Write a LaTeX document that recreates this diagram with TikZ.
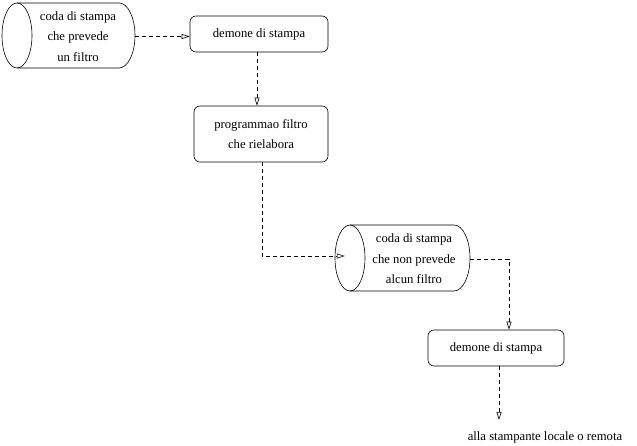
\documentclass[tikz,border=0pt]{standalone}
\usepackage{fontspec}
\setmainfont{Liberation Serif}
\usetikzlibrary{arrows.meta}
\begin{document}
\begin{tikzpicture}[x=1pt,y=-1pt,
  every node/.style={font=\fontsize{12.7}{20.5}\selectfont, inner sep=0pt, align=center},
  box/.style={draw, rounded corners=6pt, line width=0.6pt},
  conn/.style={draw, line width=0.6pt, dash pattern=on 4pt off 3pt, -{Triangle[open,length=8pt,width=5pt]}},
  cyl/.style={line width=0.6pt}]
\useasboundingbox (0,0) rectangle (637,446);
% boxes
\node[box, minimum width=138pt, minimum height=36pt] (d1) at (259,34) {demone di stampa};
\node[box, minimum width=134pt, minimum height=56pt] (d2) at (261,134) {programmao filtro\\che rielabora};
\node[box, minimum width=136pt, minimum height=36pt] (d3) at (496,348) {demone di stampa};
% cylinder 1
\draw[cyl] (17,35.5) ellipse [x radius=15pt, y radius=32.5pt];
\draw[cyl] (17,3) -- (119,3) arc[start angle=90, end angle=-90, x radius=16pt, y radius=32.5pt] -- (17,68);
\node[minimum width=114pt, minimum height=60pt] (q1) at (78,36.5) {coda di stampa\\che prevede\\un filtro};
% cylinder 2
\draw[cyl] (350,258) ellipse [x radius=15pt, y radius=33pt];
\draw[cyl] (350,225) -- (454,225) arc[start angle=90, end angle=-90, x radius=16pt, y radius=33pt] -- (350,291);
\node[minimum width=112pt, minimum height=60pt] (q2) at (414,259) {coda di stampa\\che non prevede\\alcun filtro};
% output
\coordinate (end) at (499,420);
\node[anchor=base] (out) at (545,440) {alla stampante locale o remota};
% connectors
\draw[conn] (q1.east) -- (q1.east -| d1.west);
\draw[conn] ([xshift=-2pt]d1.south) -- ([xshift=-2pt]d1.south |- d2.north);
\draw[conn] ([xshift=1pt]d2.south) |- ([xshift=-13pt,yshift=3pt]q2.west);
\draw[conn] (q2.east) -| ([xshift=13pt]d3.north);
\draw[conn] ([xshift=3pt]d3.south) -- (end);
\end{tikzpicture}
\end{document}
